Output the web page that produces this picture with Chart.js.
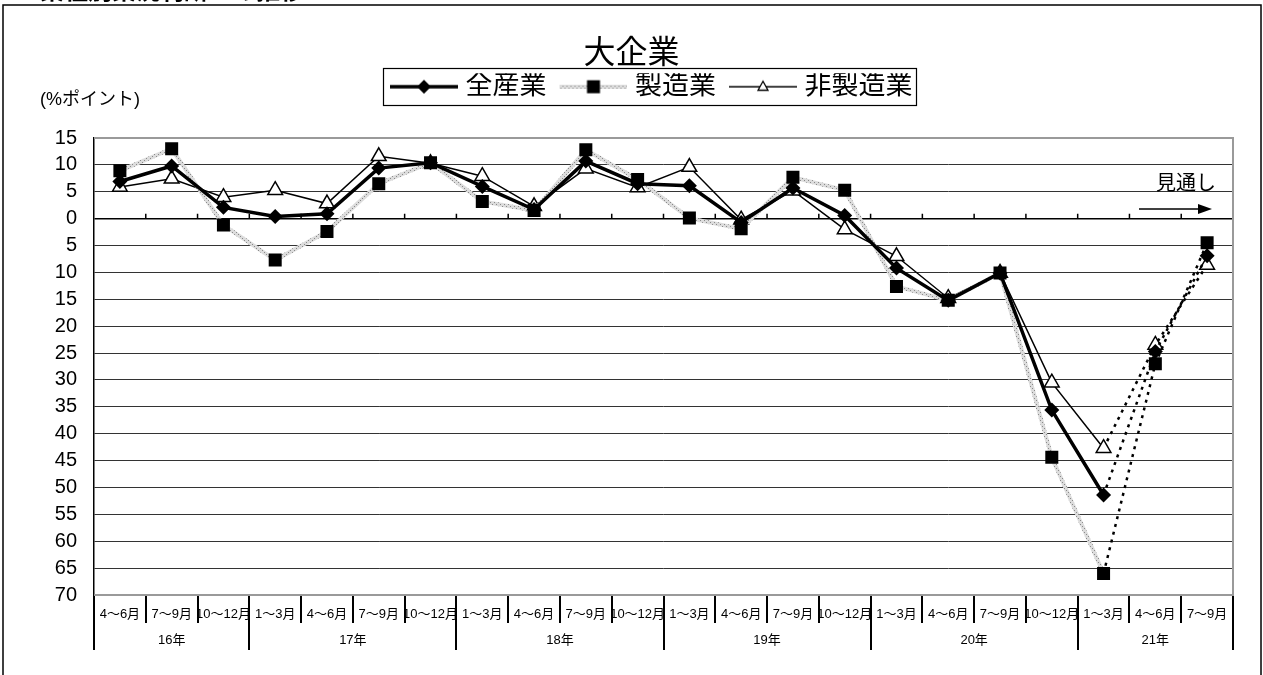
<!DOCTYPE html>
<html><head><meta charset="utf-8">
<script src="https://cdn.jsdelivr.net/npm/chart.js@4.4.0/dist/chart.umd.min.js"></script>
<style>html,body{margin:0;padding:0;background:#fff;overflow:hidden}#c{display:block}</style>
</head><body>
<canvas id="c" width="1263" height="675"></canvas>
<script>
// ---- data ----
const quarters = ['4～6月','7～9月','10～12月',
  '1～3月','4～6月','7～9月','10～12月',
  '1～3月','4～6月','7～9月','10～12月',
  '1～3月','4～6月','7～9月','10～12月',
  '1～3月','4～6月','7～9月','10～12月',
  '1～3月','4～6月','7～9月'];
const years = ['16年','17年','18年','19年','20年','21年'];
const yearSpans = [3,4,4,4,4,3];
const seriesNames = ['全産業','製造業','非製造業'];
const allIndustries    = [6.9, 9.8, 2.1, 0.4, 0.9, 9.4, 10.4, 6.0, 1.7, 10.7, 6.5, 6.1, -0.7, 5.7, 0.6, -9.2, -15.2, -10.1, -35.6, -51.4, -24.7, -6.9];
const manufacturing    = [8.9, 13.0, -1.2, -7.7, -2.4, 6.5, 10.4, 3.2, 1.5, 12.8, 7.3, 0.1, -1.9, 7.7, 5.3, -12.6, -15.2, -10.1, -44.4, -66.0, -27.0, -4.5];
const nonManufacturing = [5.9, 7.4, 4.0, 5.3, 2.8, 11.6, 10.3, 7.9, 2.3, 9.3, 5.8, 9.6, -0.2, 5.2, -2.0, -7.0, -14.8, -10.1, -30.5, -42.7, -23.5, -8.6];
const forecastFrom = 19; // segments starting here are the outlook (dotted)
const yTickValues = [-70,-65,-60,-55,-50,-45,-40,-35,-30,-25,-20,-15,-10,-5,0,5,10,15];
const yTickLabels = ['70','65','60','55','50','45','40','35','30','25','20','15','10','5','0','5','10','15'];
const chartTitle = '大企業';
const pageTitle = '業種別業況判断DIの推移';
const unitLabel = '(%ポイント)';
const outlookLabel = '見通し';

// ---- helpers ----
const FONT = '"Liberation Sans", "Noto Sans CJK JP", sans-serif';
const yearBounds = [0]; yearSpans.forEach(s => yearBounds.push(yearBounds[yearBounds.length-1] + s));
const yearCenters = years.map((_, i) => (yearBounds[i] + yearBounds[i+1]) / 2);

function hatch(ctx){
  const p = document.createElement('canvas'); p.width = 4; p.height = 4;
  const g = p.getContext('2d');
  g.fillStyle = '#dcdcdc'; g.fillRect(0,0,4,4);
  g.fillStyle = '#8a8a8a'; g.fillRect(0,0,1,1); g.fillRect(2,2,1,1);
  return ctx.createPattern(p, 'repeat');
}
const mainCtx = document.getElementById('c').getContext('2d');
const mfgPattern = hatch(mainCtx);

function legendImage(kind){
  const W = 87, H = 22;
  const cv = document.createElement('canvas'); cv.width = W; cv.height = H;
  const g = cv.getContext('2d');
  const x0 = W - 68, x1 = W, cy = H/2, cx = (x0 + x1)/2;
  g.beginPath(); g.moveTo(x0, cy); g.lineTo(x1, cy);
  if (kind === 0) {
    g.strokeStyle = '#000'; g.lineWidth = 3.5; g.stroke();
    g.beginPath(); g.moveTo(cx-7, cy); g.lineTo(cx, cy-7); g.lineTo(cx+7, cy); g.lineTo(cx, cy+7); g.closePath();
    g.fillStyle = '#000'; g.fill();
  } else if (kind === 1) {
    g.strokeStyle = hatch(g); g.lineWidth = 4; g.stroke();
    g.fillStyle = '#000'; g.fillRect(cx-6.5, cy-6.5, 13, 13);
  } else {
    g.strokeStyle = '#000'; g.lineWidth = 1.5; g.stroke();
    g.beginPath(); g.moveTo(cx, cy-5.5); g.lineTo(cx+5, cy+3.5); g.lineTo(cx-5, cy+3.5); g.closePath();
    g.fillStyle = '#fff'; g.fill(); g.lineWidth = 1.3; g.stroke();
  }
  return cv;
}
const legendImgs = [legendImage(0), legendImage(1), legendImage(2)];

const fc = (c, v) => c.p0DataIndex >= forecastFrom ? v : undefined;
const forecastSegment = {
  borderColor: c => fc(c, '#000'),
  borderDash: c => fc(c, [3, 5]),
  borderWidth: c => fc(c, 2.5)
};

const deco = {
  id: 'deco',
  beforeDraw(chart){
    const c = chart.ctx; c.save(); c.fillStyle = '#fff'; c.fillRect(0,0,chart.width,chart.height); c.restore();
  },
  afterLayout(chart){
    const lg = chart.legend;
    if (lg && lg.lineWidths) {
      const pad = lg.options.labels.padding;
      const x0 = 377;
      lg.lineWidths[0] = lg.left + pad + lg.right - 2 * x0;
    }
  },
  beforeDatasetsDraw(chart){
    const c = chart.ctx, a = chart.chartArea, ys = chart.scales.y, xs = chart.scales.x2;
    c.save();
    c.strokeStyle = '#9a9a9a'; c.lineWidth = 2;
    c.beginPath();
    c.moveTo(a.left, a.top); c.lineTo(a.right, a.top); c.lineTo(a.right, a.bottom); c.lineTo(a.left, a.bottom);
    c.stroke();
    const y0 = ys.getPixelForValue(0);
    c.strokeStyle = '#000'; c.lineWidth = 1.5;
    c.beginPath();
    for (let i = 1; i < quarters.length; i++) {
      const x = xs.getPixelForValue(i);
      c.moveTo(x, y0 - 5); c.lineTo(x, y0);
    }
    c.stroke();
    c.restore();
  },
  afterDraw(chart){
    const c = chart.ctx, a = chart.chartArea, xs = chart.scales.x2;
    c.save();
    // table lines under the category axis
    c.strokeStyle = '#000'; c.lineWidth = 2;
    c.beginPath();
    for (let i = 0; i <= quarters.length; i++) {
      const x = Math.round(xs.getPixelForValue(i));
      const long = yearBounds.includes(i);
      c.moveTo(x, a.bottom + 1); c.lineTo(x, a.bottom + (long ? 55 : 28));
    }
    c.stroke();
    // outer frame
    c.lineWidth = 1.5; c.strokeStyle = '#000';
    c.strokeRect(3, 5, 1258, 700);
    // cut page title
    c.fillStyle = '#000';
    c.font = 'bold 24px ' + FONT; c.textAlign = 'left'; c.textBaseline = 'alphabetic';
    c.fillText(pageTitle, 40, -1);
    // unit label
    c.font = '18px ' + FONT; c.textBaseline = 'middle';
    c.fillText(unitLabel, 40, 100);
    // outlook label + arrow
    c.font = '20px ' + FONT;
    c.fillText(outlookLabel, 1156, 184);
    c.lineWidth = 1.5;
    c.beginPath(); c.moveTo(1139, 209); c.lineTo(1200, 209); c.stroke();
    c.beginPath(); c.moveTo(1212, 209); c.lineTo(1198, 204); c.lineTo(1198, 214); c.closePath(); c.fill();
    // legend frame
    const hb = chart.legend.legendHitBoxes;
    if (hb && hb.length) {
      const L = hb[0].left + 6;
      const last = hb[hb.length-1];
      const R = last.left + last.width + 4;
      const cy = hb[0].top + hb[0].height / 2;
      c.lineWidth = 1.2;
      c.strokeRect(Math.round(L)+0.5, Math.round(cy - 18.5)+0.5, Math.round(R - L), 37);
    }
    c.restore();
  }
};

new Chart(mainCtx, {
  type: 'line',
  data: {
    labels: quarters,
    datasets: [
      { label: seriesNames[0], data: allIndustries, order: 0,
        borderColor: '#000', borderWidth: 3.5, pointStyle: 'rectRot', pointRadius: 7.5,
        pointBackgroundColor: '#000', pointBorderColor: '#000', pointBorderWidth: 0,
        segment: forecastSegment, tension: 0 },
      { label: seriesNames[1], data: manufacturing, order: 1,
        borderColor: mfgPattern, borderWidth: 4, pointStyle: 'rect', pointRadius: 9.2,
        pointBackgroundColor: '#000', pointBorderColor: '#000', pointBorderWidth: 0,
        segment: forecastSegment, tension: 0 },
      { label: seriesNames[2], data: nonManufacturing, order: 2,
        borderColor: '#000', borderWidth: 1.5, pointStyle: 'triangle', pointRadius: 8.5,
        pointBackgroundColor: '#fff', pointBorderColor: '#000', pointBorderWidth: 1.5,
        segment: forecastSegment, tension: 0 }
    ]
  },
  options: {
    responsive: false, animation: false, devicePixelRatio: 1, events: [],
    layout: { padding: { top: 34.8, left: 30, right: 30, bottom: 22 } },
    plugins: {
      tooltip: { enabled: false },
      title: { display: true, text: chartTitle, color: '#000', padding: { top: 0, bottom: 0 },
               font: { size: 32, family: FONT, weight: 'normal' } },
      legend: {
        display: true, position: 'top', fullSize: false,
        labels: {
          usePointStyle: true, pointStyleWidth: 75, boxHeight: 20, padding: 0,
          color: '#000', font: { size: 27, family: FONT },
          generateLabels: () => seriesNames.map((n, i) => ({
            text: n, pointStyle: legendImgs[i], datasetIndex: i, hidden: false,
            lineWidth: 0, strokeStyle: 'rgba(0,0,0,0)', fillStyle: 'rgba(0,0,0,0)', fontColor: '#000'
          }))
        }
      }
    },
    scales: {
      x: {
        type: 'category', position: 'bottom', offset: true,
        grid: { display: false, drawTicks: false }, border: { display: false },
        ticks: { color: '#000', font: { size: 13, family: FONT }, padding: 12, maxRotation: 0, minRotation: 0, autoSkip: false },
        afterFit(s){ s.height = 28; }
      },
      x2: {
        type: 'linear', position: 'bottom', min: 0, max: quarters.length, offset: false,
        grid: { display: false, drawTicks: false }, border: { display: false },
        afterBuildTicks(s){ s.ticks = yearCenters.map(v => ({ value: v })); },
        ticks: { color: '#000', font: { size: 13, family: FONT }, padding: 10, maxRotation: 0, autoSkip: false,
                 callback: (v, i) => years[i] },
        afterFit(s){ s.height = 30; }
      },
      xTop: {
        type: 'category', position: 'top', display: true,
        grid: { display: false, drawTicks: false }, border: { display: false },
        ticks: { display: false },
        afterFit(s){ s.height = 27.8; }
      },
      y: {
        type: 'linear', min: -70, max: 15,
        afterBuildTicks(s){ s.ticks = yTickValues.map(v => ({ value: v })); },
        ticks: { color: '#000', font: { size: 20, family: FONT }, padding: 17, autoSkip: false,
                 callback: (v, i) => yTickLabels[i] },
        grid: { drawTicks: false,
                color: c => (c.tick.value === 15 || c.tick.value === -70) ? 'rgba(0,0,0,0)' : (c.tick.value === 0 ? '#000' : '#333'),
                lineWidth: c => c.tick.value === 0 ? 1.5 : 1 },
        border: { display: true, color: '#000', width: 1.5 },
        afterFit(s){ s.width = 64; }
      }
    }
  },
  plugins: [deco]
});
</script>
</body></html>
